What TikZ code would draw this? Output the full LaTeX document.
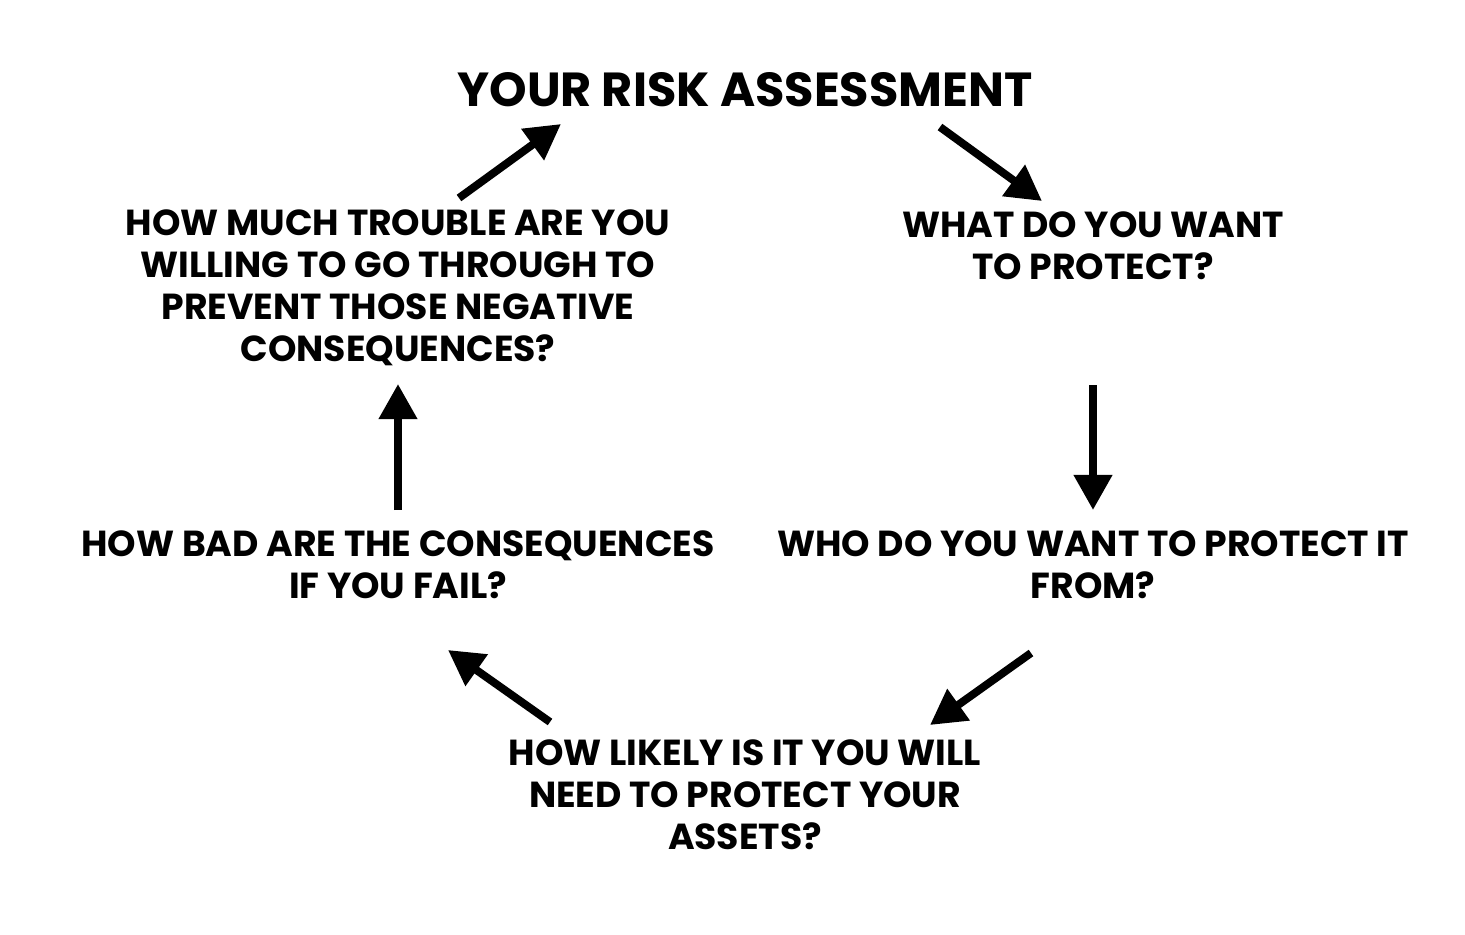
\documentclass[tikz,border=0pt]{standalone}
\usepackage{fontspec}
\setmainfont{Poppins}
\usetikzlibrary{arrows, arrows.meta}
\usetikzlibrary{calc}

\begin{document}
\begin{tikzpicture}[x=0.02cm, y=-0.02cm,
    question/.style={align=center, font=\fontsize{20.6}{23.8}\selectfont\bfseries, inner sep=0pt},
    cyclearrow/.style={line width=4.5pt, -{Triangle[length=20pt, width=21pt]}}]
    \useasboundingbox (0,0) rectangle (1465,934);

    \node[font=\fontsize{27.2}{32}\selectfont\bfseries, inner sep=0pt] (title) at (745,90) {YOUR RISK ASSESSMENT};
    \node[question] (what) at (1093,246) {WHAT DO YOU WANT\\TO PROTECT?};
    \node[question] (who) at (1093,565) {WHO DO YOU WANT TO PROTECT IT\\FROM?};
    \node[question] (likely) at (745,795) {HOW LIKELY IS IT YOU WILL\\NEED TO PROTECT YOUR\\ASSETS?};
    \node[question] (bad) at (398,565) {HOW BAD ARE THE CONSEQUENCES\\IF YOU FAIL?};
    \node[question] (trouble) at (398,288) {HOW MUCH TROUBLE ARE YOU\\WILLING TO GO THROUGH TO\\PREVENT THOSE NEGATIVE\\CONSEQUENCES?};

    \coordinate (1s) at (940,127);
    \coordinate (1e) at (1042,201);
    \coordinate (2s) at (1093,385);
    \coordinate (2e) at (1093,510);
    \coordinate (3s) at (1031,653);
    \coordinate (3e) at (930,725);
    \coordinate (4s) at (550,722);
    \coordinate (4e) at (448,650);
    \coordinate (5s) at (398,510);
    \coordinate (5e) at (398,384);
    \coordinate (6s) at (459,198);
    \coordinate (6e) at (561,124);

    \draw[cyclearrow] (1s) -- (1e);
    \draw[cyclearrow] (2s) -- (2e);
    \draw[cyclearrow] (3s) -- (3e);
    \draw[cyclearrow] (4s) -- (4e);
    \draw[cyclearrow] (5s) -- (5e);
    \draw[cyclearrow] (6s) -- (6e);
\end{tikzpicture}
\end{document}
